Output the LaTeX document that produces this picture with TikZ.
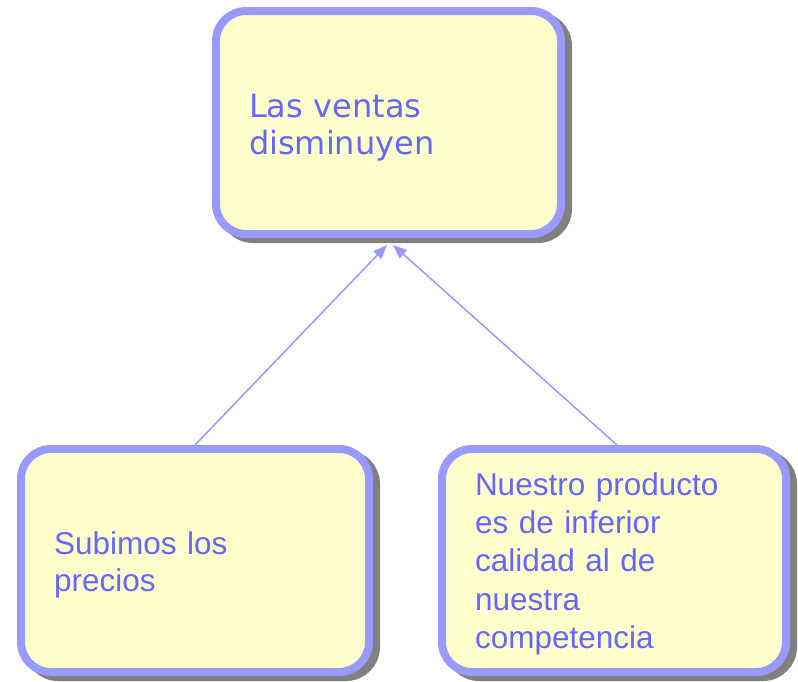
\documentclass[tikz,border=0pt]{standalone}
\usepackage{fontspec}
\setmainfont{Liberation Sans}
\newfontfamily\vfont{DejaVu Sans}
\usetikzlibrary{arrows.meta,shadows}
\definecolor{boxline}{RGB}{153,153,255}
\definecolor{boxfill}{RGB}{255,255,204}
\definecolor{boxtext}{RGB}{102,102,255}
\definecolor{boxshadow}{RGB}{128,128,128}

\begin{document}
\begin{tikzpicture}[x=1pt,y=-1pt,
		idea/.style={draw=boxline,line width=8pt,fill=boxfill,rounded corners=30pt,
			text=boxtext,align=left,inner xsep=33pt,minimum height=223pt,
			drop shadow={shadow xshift=7pt,shadow yshift=-5pt,draw=boxshadow,fill=boxshadow,line width=8pt,opacity=1}},
		cause/.style={draw=boxline,line width=1.5pt,-{Triangle[length=14pt,width=11pt]}}
		]
	\useasboundingbox (0,0) rectangle (798,681);
	\node[idea,text width=279pt,text depth=34pt,font=\vfont\fontsize{32}{37}\selectfont] (ventas) at (388.5,122.5) {Las ventas\\disminuyen};
	\node[idea,text width=282pt,text depth=35pt,font=\fontsize{31.5}{37}\selectfont] (precios) at (195,560.5) {Subimos los\\precios};
	\node[idea,text width=278pt,text depth=153pt,font=\fontsize{31.5}{38.25}\selectfont] (calidad) at (614,560.5) {Nuestro producto\\es de inferior\\calidad al de\\nuestra\\competencia};
	\draw[cause] (precios.north) -- ([xshift=-1.5pt,yshift=-7pt]ventas.south);
	\draw[cause] ([xshift=3pt]calidad.north) -- ([xshift=4.5pt,yshift=-7pt]ventas.south);
\end{tikzpicture}
\end{document}
